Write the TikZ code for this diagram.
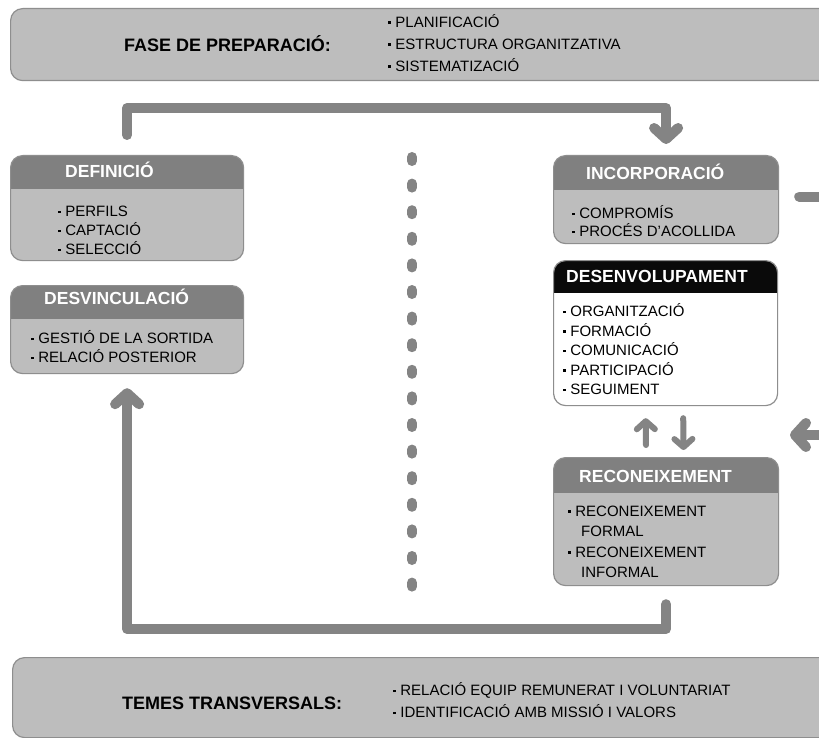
\documentclass[tikz,border=0pt]{standalone}
\usepackage{fontspec}
\setmainfont{Liberation Sans}
\usetikzlibrary{arrows.meta}
\definecolor{bodygray}{HTML}{BDBDBD}
\definecolor{bandgray}{HTML}{808080}
\definecolor{edgegray}{HTML}{8E8E8E}
\definecolor{flowgray}{HTML}{848484}
\definecolor{inkblack}{HTML}{0A0A0A}
\newcommand{\liststrut}{\rule{0pt}{13pt}}
\newcommand{\widestrut}{\rule{0pt}{14pt}}
% square list bullet
\newcommand{\bul}{\raisebox{3.6pt}{\rule{2.6pt}{2.6pt}}\hspace{4.6pt}}
\begin{document}
\begin{tikzpicture}[x=1pt,y=-1pt,
  panel/.style={draw=edgegray, line width=1.2pt, fill=bodygray,
    rounded corners=12pt, inner sep=0pt, anchor=north west},
  band/.style 2 args={path picture={\fill[#1, sharp corners]
    (path picture bounding box.north west) rectangle
    ([yshift=-#2]path picture bounding box.north east);}},
  headtxt/.style={text=white, font=\bfseries\fontsize{17.5}{20}\selectfont,
    anchor=base west, inner sep=0pt},
  items/.style={font=\fontsize{15}{19}\selectfont, align=left,
    anchor=north west, inner sep=0pt},
  biglabel/.style={font=\bfseries\fontsize{18}{21}\selectfont,
    anchor=base west, inner sep=0pt},
  wideitems/.style={font=\fontsize{15}{22}\selectfont, align=left,
    anchor=north west, inner sep=0pt},
  flow/.style={draw=flowgray, line width=10pt, line cap=round, line join=round,
    -{Straight Barb[length=11pt,width=24pt,round]}},
  smallflow/.style={draw=flowgray, line width=6pt, line cap=round, line join=round,
    -{Straight Barb[length=8pt,width=18pt,round]}},
  separator/.style={draw=flowgray, line width=10pt, line cap=round,
    dash pattern=on 4pt off 22.6pt}
]
\clip (0,0) rectangle (819,738);
\fill[white] (0,0) rectangle (819,738);

% preparation phase band
\node[panel, minimum width=850pt, minimum height=72pt] (prep) at (10,8) {};
\node[biglabel] (prepT) at (124,51.5) {FASE DE PREPARACIÓ:};
\node[wideitems] (prepL) at (388,13.5) {\widestrut\bul PLANIFICACIÓ\\\bul ESTRUCTURA ORGANITZATIVA\\\bul SISTEMATIZACIÓ};

% transversal topics band
\node[panel, minimum width=850pt, minimum height=80pt] (trans) at (12,657) {};
\node[biglabel] (transT) at (122,709.5) {TEMES TRANSVERSALS:};
\node[wideitems] (transL) at (393,681.5) {\widestrut\bul RELACIÓ EQUIP REMUNERAT I VOLUNTARIAT\\\bul IDENTIFICACIÓ AMB MISSIÓ I VALORS};

% left column
\node[panel, band={bandgray}{33pt}, minimum width=233pt, minimum height=105pt] (def) at (10,155) {};
\node[headtxt] (defT) at (65,178) {DEFINICIÓ};
\node[items] (defL) at (58,203.5) {\liststrut\bul PERFILS\\\bul CAPTACIÓ\\\bul SELECCIÓ};

\node[panel, band={bandgray}{33pt}, minimum width=233pt, minimum height=88pt] (desv) at (10,285) {};
\node[headtxt] (desvT) at (44,304) {DESVINCULACIÓ};
\node[items] (desvL) at (31,330.5) {\liststrut\bul GESTIÓ DE LA SORTIDA\\\bul RELACIÓ POSTERIOR};

% right column
\node[panel, band={bandgray}{34pt}, minimum width=225pt, minimum height=88pt] (inc) at (553,155) {};
\node[headtxt] (incT) at (586,180) {INCORPORACIÓ};
\node[items, font=\fontsize{15}{18}\selectfont] (incL) at (572,205.5) {\liststrut\bul COMPROMÍS\\\bul PROCÉS D'ACOLLIDA};

\node[panel, fill=white, band={inkblack}{32pt}, minimum width=224pt, minimum height=145pt] (dev) at (553,260) {};
\node[headtxt] (devT) at (566,282) {DESENVOLUPAMENT};
\node[items, font=\fontsize{15}{19.5}\selectfont] (devL) at (563,303.5) {\liststrut\bul ORGANITZACIÓ\\\bul FORMACIÓ\\\bul COMUNICACIÓ\\\bul PARTICIPACIÓ\\\bul SEGUIMENT};

\node[panel, band={bandgray}{35pt}, minimum width=225pt, minimum height=128pt] (rec) at (553,457) {};
\node[headtxt] (recT) at (579,482) {RECONEIXEMENT};
\node[items, font=\fontsize{15}{20.5}\selectfont] (recL) at (568,503) {\liststrut\bul RECONEIXEMENT\\\hspace*{13pt}FORMAL\\\bul RECONEIXEMENT\\\hspace*{13pt}INFORMAL};

% dotted divider between the two columns
\draw[separator] (412,157) -- (412,587);

% main cycle
\draw[flow, shorten <=20pt, shorten >=11pt]
  (def.north) -- (def.north |- 0,108) -| (inc.north);
\draw[flow, shorten <=18pt, shorten >=14pt]
  (rec.south) -- (rec.south |- 0,629) -| (desv.south);

% loop on the right edge
\coordinate (loopin) at (790,435);
\draw[flow, shorten <=20pt]
  ([yshift=3pt]inc.east) -- ++(100,0) |- (loopin);

% exchange between development and recognition
\draw[smallflow, shorten <=12pt, shorten >=12pt]
  ([xshift=-20pt]rec.north) -- ([xshift=-20pt]dev.south);
\draw[smallflow, shorten <=12pt, shorten >=7pt]
  ([xshift=17.5pt]dev.south) -- ([xshift=17.5pt]rec.north);
\end{tikzpicture}
\end{document}
